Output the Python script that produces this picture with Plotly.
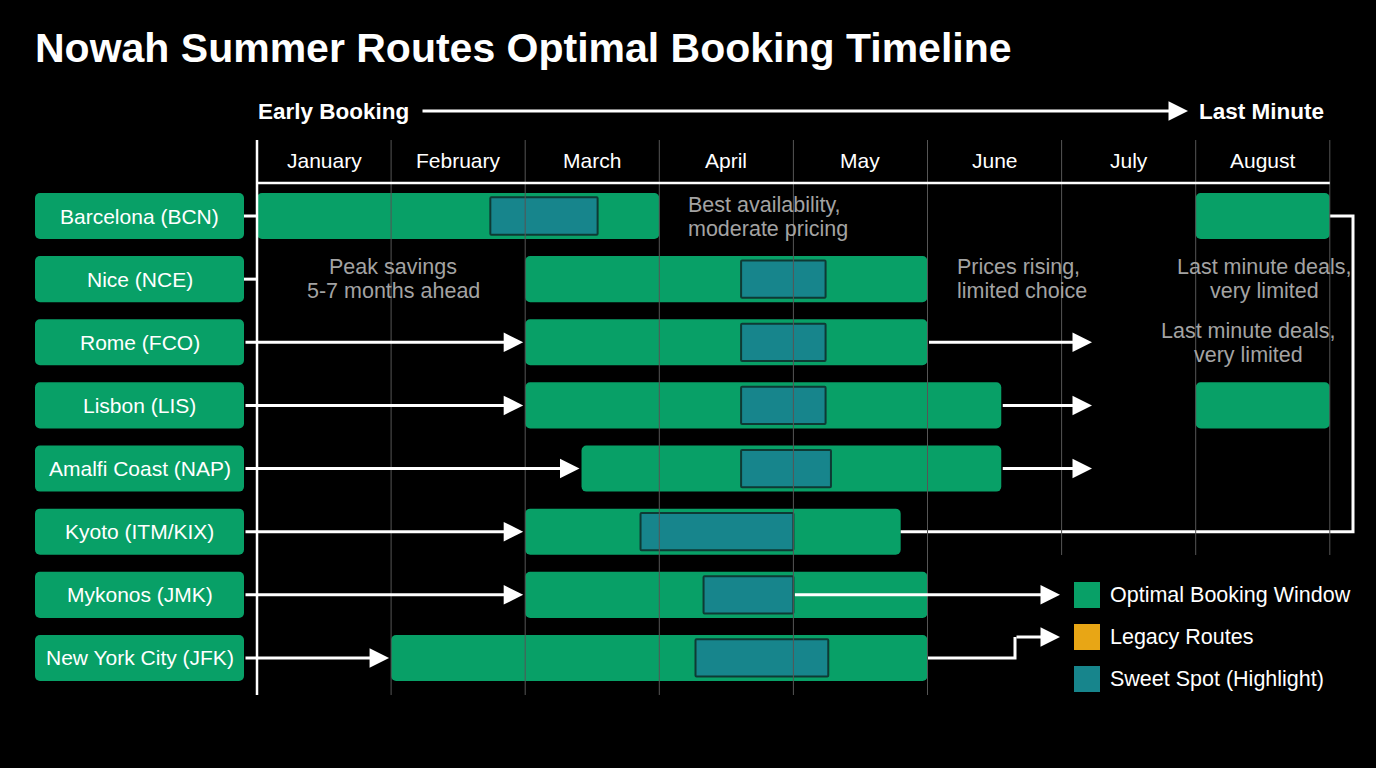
import plotly.graph_objects as go

# ---------------- data ----------------
months = ["January", "February", "March", "April", "May", "June", "July", "August"]
routes = ["Barcelona (BCN)", "Nice (NCE)", "Rome (FCO)", "Lisbon (LIS)",
          "Amalfi Coast (NAP)", "Kyoto (ITM/KIX)", "Mykonos (JMK)", "New York City (JFK)"]
# month units: 0 = start of January, 8 = end of August
window_start = [0.0, 2.0, 2.0, 2.0, 2.42, 2.0, 2.0, 1.0]
window_end = [3.0, 5.0, 5.0, 5.55, 5.55, 4.8, 5.0, 5.0]
sweet_start = [1.74, 3.61, 3.61, 3.61, 3.61, 2.86, 3.33, 3.27]
sweet_end = [2.54, 4.24, 4.24, 4.24, 4.28, 4.0, 4.0, 4.26]
late_rows = [0, 3]
late_start = [7.0, 7.0]
late_end = [8.0, 8.0]
lead_arrow_rows = [2, 3, 4, 5, 6, 7]
follow_arrow_rows = [2, 3, 4]
legend_names = ["Optimal Booking Window", "Legacy Routes", "Sweet Spot (Highlight)"]

GREEN = "#08a067"
TEAL = "#17858c"
ORANGE = "#e8a615"
GREY_TXT = "#a3a3a3"
FONT = "Liberation Sans, Arial, sans-serif"

# pixel -> data helpers (plot area fills the whole 1376x768 figure)
X0, XS = 257.0, 134.1
Y0, YS = 216.0, 63.14
def px(x):
    return (x - X0) / XS
def py(y):
    return (y - Y0) / YS

n = len(routes)
rows = list(range(n))

fig = go.Figure()

# route label boxes
lab_l, lab_r = px(35), px(244)
fig.add_trace(go.Bar(
    orientation="h", y=rows, x=[lab_r - lab_l] * n, base=[lab_l] * n,
    width=0.73, marker=dict(color=GREEN, cornerradius=5, line=dict(width=0)),
    hoverinfo="skip", showlegend=False))

# optimal windows
fig.add_trace(go.Bar(
    orientation="h", y=rows, x=[e - s for s, e in zip(window_start, window_end)],
    base=window_start, width=0.73,
    marker=dict(color=GREEN, cornerradius=5, line=dict(width=0)),
    name=legend_names[0], showlegend=False))
fig.add_trace(go.Bar(
    orientation="h", y=late_rows, x=[e - s for s, e in zip(late_start, late_end)],
    base=late_start, width=0.73,
    marker=dict(color=GREEN, cornerradius=5, line=dict(width=0)),
    showlegend=False))
# sweet spots
fig.add_trace(go.Bar(
    orientation="h", y=rows, x=[e - s for s, e in zip(sweet_start, sweet_end)],
    base=sweet_start, width=0.59,
    marker=dict(color=TEAL, cornerradius=1, line=dict(width=2, color="#0e3a34")),
    name=legend_names[2], showlegend=False))

# connectors
line_style = dict(color="white", width=3)
for r in [0, 1]:
    fig.add_trace(go.Scatter(x=[lab_r, 0], y=[r, r], mode="lines", line=line_style,
                             hoverinfo="skip", showlegend=False))
# Kyoto bracket to August window of Barcelona
fig.add_trace(go.Scatter(x=[window_end[5], px(1353), px(1353), late_end[0]],
                         y=[5, 5, 0, 0], mode="lines", line=line_style,
                         hoverinfo="skip", showlegend=False))
# NYC elbow
fig.add_trace(go.Scatter(x=[window_end[7], px(1015), px(1015)],
                         y=[7, 7, py(637)], mode="lines", line=line_style,
                         hoverinfo="skip", showlegend=False))

annotations = []
def arrow(x_tail, y_tail, x_tip, y_tip, w=3):
    annotations.append(dict(x=x_tip, y=y_tip, ax=x_tail, ay=y_tail, xref="x", yref="y",
                            axref="x", ayref="y", text="", showarrow=True, arrowhead=2,
                            arrowsize=1.3, arrowwidth=w, arrowcolor="white", standoff=0))

for r in lead_arrow_rows:
    arrow(lab_r, r, window_start[r] - 0.015, r)
for r in follow_arrow_rows:
    arrow(window_end[r], r, px(1092), r)
arrow(sweet_end[6], 6, px(1060), 6)
arrow(px(1015), py(637), px(1060), py(637))
# top timeline arrow
arrow(px(421), py(111), px(1188), py(111))

# grid
shapes = []
for m in range(len(months) + 1):
    if m == 0:
        shapes.append(dict(type="line", xref="x", yref="y", x0=m, x1=m, y0=py(140), y1=py(695),
                           line=dict(color="white", width=2.5)))
    else:
        bottom = py(555) if m >= 6 else py(695)
        shapes.append(dict(type="line", xref="x", yref="y", x0=m, x1=m, y0=py(140), y1=bottom,
                           line=dict(color="#555555", width=1)))
shapes.append(dict(type="line", xref="x", yref="y", x0=0, x1=len(months), y0=py(183), y1=py(183),
                   line=dict(color="white", width=2.5)))

# month labels
for i, mname in enumerate(months):
    annotations.append(dict(x=i + 0.5, y=py(160), xref="x", yref="y", text=mname,
                            showarrow=False, font=dict(color="white", size=21, family=FONT)))
# route labels
for r, name in enumerate(routes):
    annotations.append(dict(x=(lab_l + lab_r) / 2, y=r, xref="x", yref="y", text=name,
                            showarrow=False, font=dict(color="white", size=21, family=FONT)))

# header labels
annotations.append(dict(x=-0.01, y=py(111), xref="x", yref="y", text="<b>Early Booking</b>",
                        xanchor="left", showarrow=False,
                        font=dict(color="white", size=22.5, family=FONT)))
annotations.append(dict(x=px(1197), y=py(111), xref="x", yref="y", text="<b>Last Minute</b>",
                        xanchor="left", showarrow=False,
                        font=dict(color="white", size=22.5, family=FONT)))

# grey notes (two lines each, tighter leading than plotly's default)
notes = [
    (["Best availability,", "moderate pricing"], px(686), 205, "left"),
    (["Peak savings", "5-7 months ahead"], px(393), 267, "center"),
    (["Prices rising,", "limited choice"], px(955), 267, "left"),
    (["Last minute deals,", "very limited"], px(1264), 267, "center"),
    (["Last minute deals,", "very limited"], px(1248), 331, "center"),
]
for lines, x, ytop, anc in notes:
    for k, txt in enumerate(lines):
        annotations.append(dict(x=x, y=py(ytop + 23.5 * k), xref="x", yref="y", text=txt,
                                xanchor=anc, showarrow=False,
                                font=dict(color=GREY_TXT, size=21.5, family=FONT)))

# custom legend
leg_colors = [GREEN, ORANGE, TEAL]
leg_y = [py(595), py(637), py(679)]
fig.add_trace(go.Scatter(x=[px(1087)] * 3, y=leg_y, mode="markers",
                         marker=dict(symbol="square", size=26, color=leg_colors, line=dict(width=0)),
                         hoverinfo="skip", showlegend=False))
for name, y in zip(legend_names, leg_y):
    annotations.append(dict(x=px(1108), y=y, xref="x", yref="y", text=name, xanchor="left",
                            showarrow=False, font=dict(color="white", size=21.5, family=FONT)))

fig.update_layout(
    width=1376, height=768,
    margin=dict(l=0, r=0, t=0, b=0),
    paper_bgcolor="black", plot_bgcolor="black",
    barmode="overlay",
    title=dict(text="<b>Nowah Summer Routes Optimal Booking Timeline</b>",
               x=35 / 1376, xanchor="left", y=1 - 48 / 768, yanchor="middle",
               font=dict(color="white", size=41, family=FONT)),
    xaxis=dict(range=[px(0), px(1376)], visible=False, fixedrange=True),
    yaxis=dict(range=[py(768), py(0)], visible=False, fixedrange=True),
    shapes=shapes, annotations=annotations,
    showlegend=False,
)

fig.write_html(
    "out.html",
    config={"displayModeBar": False},
    post_script="document.body.style.margin='0';document.body.style.background='black';"
                "document.body.style.overflow='hidden';",
)
